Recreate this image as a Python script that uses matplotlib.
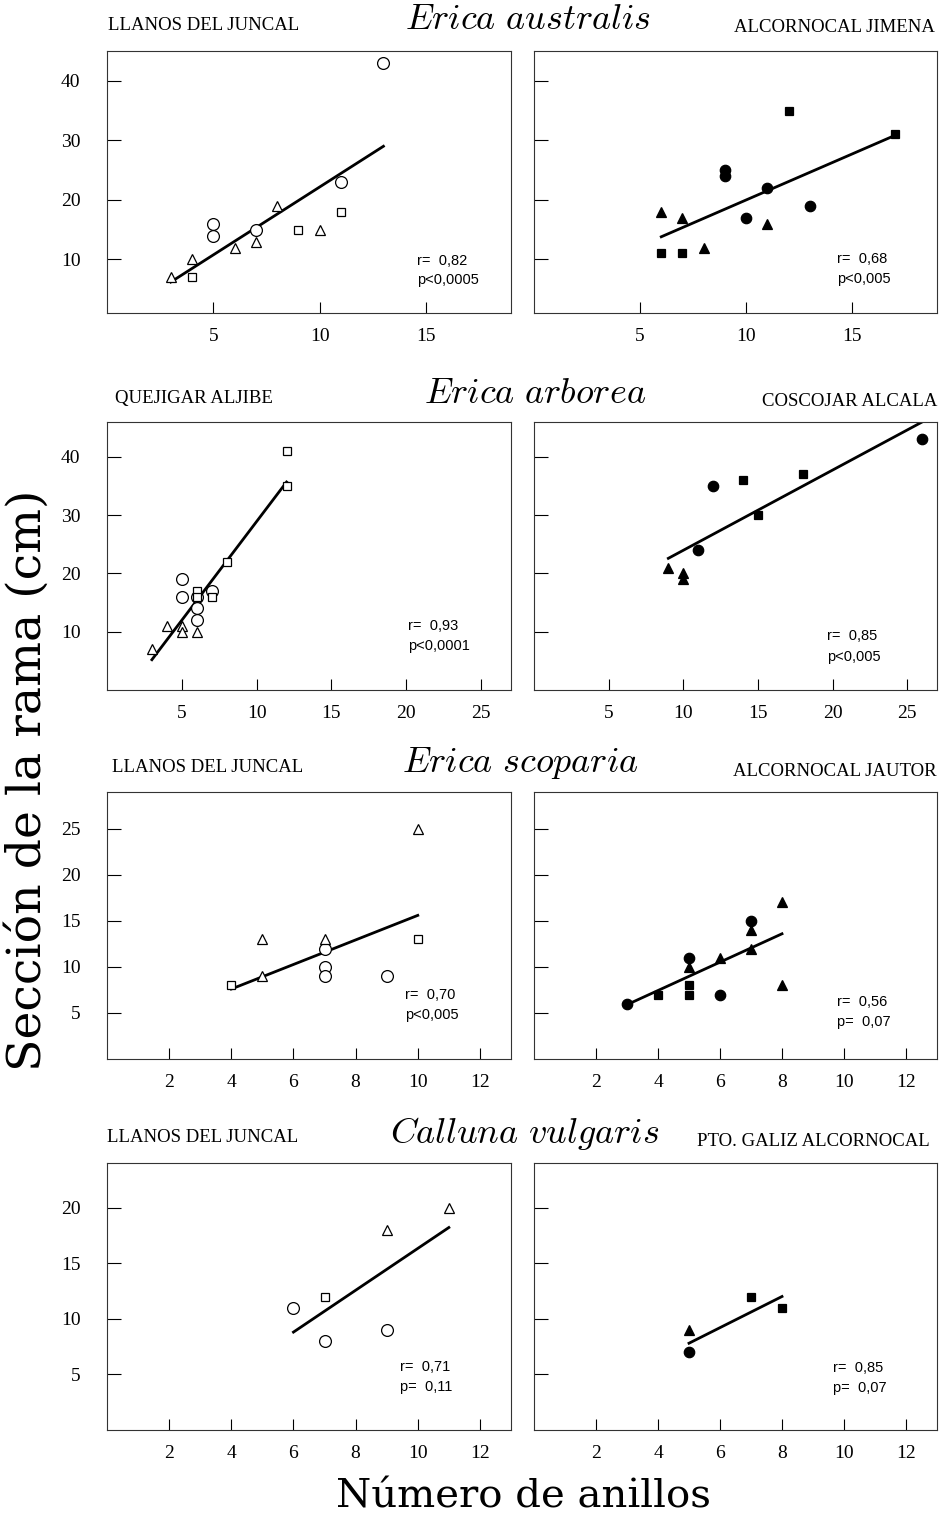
import numpy as np
import matplotlib.pyplot as plt

plt.rcParams['mathtext.fontset'] = 'cm'

# Erica australis - Llanos del Juncal (open markers)
a1_circ_x = [5, 5, 7, 11, 13]
a1_circ_y = [16, 14, 15, 23, 43]
a1_tri_x = [3, 4, 6, 7, 8, 10]
a1_tri_y = [7, 10, 12, 13, 19, 15]
a1_sq_x = [4, 9, 11]
a1_sq_y = [7, 15, 18]
a1_line_x = [3, 13]
a1_line_y = [6.2, 29.0]

# Erica australis - Alcornocal Jimena (filled markers)
a2_circ_x = [9, 9, 10, 11, 13]
a2_circ_y = [25, 24, 17, 22, 19]
a2_tri_x = [6, 7, 8, 11]
a2_tri_y = [18, 17, 12, 16]
a2_sq_x = [6, 7, 12, 17]
a2_sq_y = [11, 11, 35, 31]
a2_line_x = [6, 17]
a2_line_y = [13.8, 30.8]

# Erica arborea - Quejigar Aljibe
b1_circ_x = [5, 5, 6, 6, 6, 7]
b1_circ_y = [19, 16, 16, 14, 12, 17]
b1_tri_x = [3, 4, 5, 5, 6]
b1_tri_y = [7, 11, 11, 10, 10]
b1_sq_x = [6, 6, 7, 8, 12, 12]
b1_sq_y = [17, 16, 16, 22, 41, 35]
b1_line_x = [3, 12]
b1_line_y = [5.2, 35.7]

# Erica arborea - Coscojar Alcala
b2_circ_x = [11, 12, 26]
b2_circ_y = [24, 35, 43]
b2_tri_x = [9, 10, 10]
b2_tri_y = [21, 20, 19]
b2_sq_x = [14, 15, 18]
b2_sq_y = [36, 30, 37]
b2_line_x = [9, 26]
b2_line_y = [22.6, 46.0]

# Erica scoparia - Llanos del Juncal
c1_circ_x = [7, 7, 7, 9]
c1_circ_y = [12, 10, 9, 9]
c1_tri_x = [5, 5, 7, 10]
c1_tri_y = [13, 9, 13, 25]
c1_sq_x = [4, 10]
c1_sq_y = [8, 13]
c1_line_x = [4, 10]
c1_line_y = [7.6, 15.6]

# Erica scoparia - Alcornocal Jautor
c2_circ_x = [3, 5, 6, 7]
c2_circ_y = [6, 11, 7, 15]
c2_tri_x = [5, 6, 7, 7, 8, 8]
c2_tri_y = [10, 11, 14, 12, 17, 8]
c2_sq_x = [4, 5, 5]
c2_sq_y = [7, 8, 7]
c2_line_x = [3, 8]
c2_line_y = [5.9, 13.6]

# Calluna vulgaris - Llanos del Juncal
d1_circ_x = [6, 7, 9]
d1_circ_y = [11, 8, 9]
d1_tri_x = [9, 11]
d1_tri_y = [18, 20]
d1_sq_x = [7]
d1_sq_y = [12]
d1_line_x = [6, 11]
d1_line_y = [8.8, 18.2]

# Calluna vulgaris - Pto. Galiz Alcornocal
d2_circ_x = [5]
d2_circ_y = [7]
d2_tri_x = [5]
d2_tri_y = [9]
d2_sq_x = [7, 8]
d2_sq_y = [12, 11]
d2_line_x = [5, 8]
d2_line_y = [7.8, 12.0]

species = ['Erica\\ australis', 'Erica\\ arborea', 'Erica\\ scoparia', 'Calluna\\ vulgaris']
sites_left = ['LLANOS DEL JUNCAL', 'QUEJIGAR ALJIBE', 'LLANOS DEL JUNCAL', 'LLANOS DEL JUNCAL']
sites_right = ['ALCORNOCAL JIMENA', 'COSCOJAR ALCALA', 'ALCORNOCAL JAUTOR', 'PTO. GALIZ ALCORNOCAL']
stats_r = ['0,82', '0,68', '0,93', '0,85', '0,70', '0,56', '0,71', '0,85']
stats_p = ['p<0,0005', 'p<0,005', 'p<0,0001', 'p<0,005', 'p<0,005', 'p=  0,07', 'p=  0,11', 'p=  0,07']

row_xlim = [(0, 19), (0, 27), (0, 13), (0, 13)]
row_ylim = [(1, 45), (0, 46), (0, 29), (0, 24)]
row_xticks = [[5, 10, 15], [5, 10, 15, 20, 25], [2, 4, 6, 8, 10, 12], [2, 4, 6, 8, 10, 12]]
row_yticks = [[10, 20, 30, 40], [10, 20, 30, 40], [5, 10, 15, 20, 25], [5, 10, 15, 20]]

panels = [
    (a1_circ_x, a1_circ_y, a1_tri_x, a1_tri_y, a1_sq_x, a1_sq_y, a1_line_x, a1_line_y),
    (a2_circ_x, a2_circ_y, a2_tri_x, a2_tri_y, a2_sq_x, a2_sq_y, a2_line_x, a2_line_y),
    (b1_circ_x, b1_circ_y, b1_tri_x, b1_tri_y, b1_sq_x, b1_sq_y, b1_line_x, b1_line_y),
    (b2_circ_x, b2_circ_y, b2_tri_x, b2_tri_y, b2_sq_x, b2_sq_y, b2_line_x, b2_line_y),
    (c1_circ_x, c1_circ_y, c1_tri_x, c1_tri_y, c1_sq_x, c1_sq_y, c1_line_x, c1_line_y),
    (c2_circ_x, c2_circ_y, c2_tri_x, c2_tri_y, c2_sq_x, c2_sq_y, c2_line_x, c2_line_y),
    (d1_circ_x, d1_circ_y, d1_tri_x, d1_tri_y, d1_sq_x, d1_sq_y, d1_line_x, d1_line_y),
    (d2_circ_x, d2_circ_y, d2_tri_x, d2_tri_y, d2_sq_x, d2_sq_y, d2_line_x, d2_line_y),
]

# layout in pixels of the 941x1514 image
W, H = 941, 1514
row_box = [(51, 313), (422, 690), (792, 1059), (1163, 1430)]
col_box = [(107, 511), (534, 937)]
stat_pos = [(0.767, 0.20), (0.752, 0.205), (0.745, 0.24), (0.727, 0.20),
            (0.738, 0.24), (0.752, 0.215), (0.725, 0.237), (0.742, 0.232)]
title_y = [(25, 19, 28), (398, 393, 401), (768, 763, 772), (1138, 1133, 1141)]
title_x = [(108, 528, 935), (115, 535, 937), (112, 520, 937), (107, 525, 930)]

fig = plt.figure(figsize=(W / 100, H / 100), dpi=100)

for i, p in enumerate(panels):
    row, col = divmod(i, 2)
    top, bot = row_box[row]
    left, right = col_box[col]
    ax = fig.add_axes([left / W, 1 - bot / H, (right - left) / W, (bot - top) / H])
    cx, cy, tx, ty, sx, sy, lx, ly = p
    face = 'white' if col == 0 else 'black'
    ax.plot(lx, ly, color='black', lw=2.0, zorder=2)
    ax.plot(cx, cy, 'o', ms=8.5 if col == 0 else 7.5, mfc=face, mec='black', mew=0.9, zorder=3)
    ax.plot(tx, ty, '^', ms=7.5 if col == 0 else 7, mfc=face, mec='black', mew=0.9, zorder=3)
    ax.plot(sx, sy, 's', ms=6, mfc=face, mec='black', mew=0.9, zorder=3)
    ax.set_xlim(row_xlim[row])
    ax.set_ylim(row_ylim[row])
    ax.set_xticks(row_xticks[row])
    ax.set_yticks(row_yticks[row])
    ax.tick_params(axis='x', direction='in', length=8, width=0.8, pad=11, labelsize=14)
    ax.tick_params(axis='y', direction='in', length=10, width=0.8, pad=19, labelsize=14)
    for lab in ax.get_xticklabels() + ax.get_yticklabels():
        lab.set_family('Liberation Serif')
    if col == 1:
        ax.set_yticklabels([])
    for s in ax.spines.values():
        s.set_linewidth(0.8)
        s.set_color('#333333')
    xs, ys = stat_pos[i]
    ax.text(xs, ys, 'r=  ' + stats_r[i], transform=ax.transAxes, fontsize=10.5,
            family='Liberation Sans', va='center')
    ax.text(xs, ys - 0.075, stats_p[i], transform=ax.transAxes, fontsize=10.5,
            family='Liberation Sans', va='center')

for row in range(4):
    yl, ys, yr = title_y[row]
    xl, xs, xr = title_x[row]
    fig.text(xl / W, 1 - yl / H, sites_left[row], fontsize=13.5, family='Liberation Serif',
             ha='left', va='center')
    fig.text(xs / W, 1 - ys / H, '$' + species[row] + '$', fontsize=26,
             ha='center', va='center')
    fig.text(xr / W, 1 - yr / H, sites_right[row], fontsize=13.5, family='Liberation Serif',
             ha='right', va='center')

fig.text(524 / W, 1 - 1497 / H, 'Número de anillos', fontsize=29, family='DejaVu Serif',
         ha='center', va='center')
fig.text(28 / W, 1 - 780 / H, 'Sección de la rama (cm)', fontsize=34, family='DejaVu Serif',
         rotation=90, ha='center', va='center')

fig.savefig('out.png', dpi=100)
